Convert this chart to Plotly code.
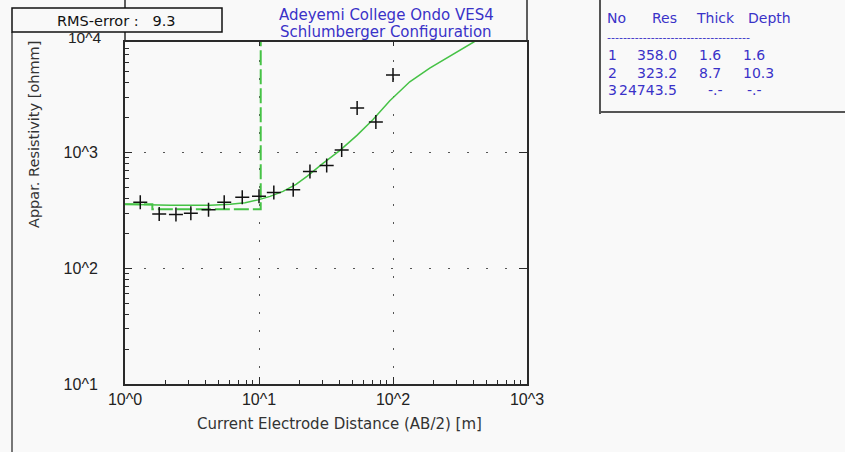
import plotly.graph_objects as go

# ---------------- data ----------------
# measured sounding points: AB/2 [m] and apparent resistivity [ohm m]
ab2_obs = [1.3, 1.8, 2.4, 3.1, 4.2, 5.5, 7.5, 10, 12.9, 18, 24, 32, 41.4, 54, 74.5, 100]
rho_obs = [372, 295, 291, 299, 320, 371, 410, 420, 451, 476, 685, 772, 1049, 2422, 1832, 4667]

# calculated (model) apparent resistivity curve
ab2_calc = [1.0, 1.55, 2.18, 4.32, 6.09, 7.88, 9.85, 12.1, 15.1, 18.9, 22.8, 30.0,
            40.2, 53.8, 70.7, 94.7, 133.4, 188, 265, 406]
rho_calc = [357, 353, 350, 350, 357, 368, 390, 418, 462, 531, 623, 807,
            1045, 1408, 1917, 2797, 4083, 5364, 6757, 9108]

# layered earth model
layer_no = [1, 2, 3]
layer_res = [358.0, 323.2, 24743.5]
layer_thick = [1.6, 8.7]
layer_depth = [1.6, 10.3]

rms_error = 9.3
title_lines = ["Adeyemi College Ondo VES4", "Schlumberger Configuration"]
table_headers = ["No", "Res", "Thick", "Depth"]

x_tickvals = [1, 10, 100, 1000]
x_ticktext = ["10^0", "10^1", "10^2", "10^3"]
y_tickvals = [10, 100, 1000]
y_ticktext = ["10^1", "10^2", "10^3"]
y_top_label = "10^4"
x_range_log = [0, 3]
y_range_log = [1, 3.955]

# ---------------- styling ----------------
W, H = 845, 452
ML, MR, MT, MB = 125, 318, 42, 68
PW, PH = W - ML - MR, H - MT - MB
BG = "#f9f9f9"
GREEN = "#46c246"
BLUE = "#3a32c8"
AXC = "#2a2a2a"
FONT = "Liberation Sans, Arial, sans-serif"
WFONT = "DejaVu Sans, Verdana, sans-serif"
PAD = "&nbsp;" * 5


def px(x):
    return (x - ML) / PW


def py(y):
    return (H - MB - y) / PH


minor_x = [m * 10 ** e for e in range(0, 3) for m in range(2, 10)]
minor_y = [m * 10 ** e for e in range(1, 4) for m in range(2, 10)]

# model step line
x_min = 10 ** x_range_log[0]
x_step = [x_min]
y_step = [layer_res[0]]
for i, d in enumerate(layer_depth):
    x_step += [d, d]
    y_step += [layer_res[i], layer_res[i + 1]]

fig = go.Figure()
fig.add_trace(go.Scatter(x=x_step, y=y_step, mode="lines",
                         line=dict(color=GREEN, width=2, dash="15px,4px"),
                         hoverinfo="skip", showlegend=False))
fig.add_trace(go.Scatter(x=ab2_calc, y=rho_calc, mode="lines",
                         line=dict(color=GREEN, width=1.5),
                         showlegend=False))
fig.add_trace(go.Scatter(x=ab2_obs, y=rho_obs, mode="markers",
                         marker=dict(symbol="cross-thin", size=10,
                                     line=dict(color="#111", width=1.5)),
                         showlegend=False))
# helper trace for mirrored (top/right) tick axes
fig.add_trace(go.Scatter(x=[], y=[], xaxis="x2", yaxis="y2", showlegend=False))

axis_common = dict(type="log", showline=True, linecolor=AXC, linewidth=1.5,
                   ticks="inside", tickcolor=AXC, tickwidth=1.3, ticklen=7,
                   zeroline=False, gridcolor="#555", gridwidth=1,
                   tickfont=dict(family=FONT, size=16, color="#222"))

fig.update_layout(
    width=W, height=H,
    margin=dict(l=ML, r=MR, t=MT, b=MB, pad=0),
    paper_bgcolor=BG, plot_bgcolor=BG,
    xaxis=dict(**axis_common, range=x_range_log, mirror=True,
               tickvals=x_tickvals, ticktext=x_ticktext,
               griddash="2px,16px",
               minor=dict(ticks="inside", ticklen=4, tickcolor=AXC,
                          tickvals=minor_x, showgrid=False)),
    yaxis=dict(**axis_common, range=y_range_log, mirror=True,
               tickvals=y_tickvals, ticktext=[t + PAD for t in y_ticktext],
               griddash="2px,17px",
               minor=dict(ticks="inside", ticklen=4, tickcolor=AXC,
                          tickvals=minor_y, showgrid=False)),
    xaxis2=dict(type="log", range=x_range_log, overlaying="x", side="top",
                tickvals=x_tickvals[1:3], ticks="inside", ticklen=4,
                tickcolor=AXC, tickwidth=1.3, showticklabels=False,
                showgrid=False, showline=False, zeroline=False),
    yaxis2=dict(type="log", range=y_range_log, overlaying="y", side="right",
                tickvals=y_tickvals[1:], ticks="inside", ticklen=8,
                tickcolor=AXC, tickwidth=1.3, showticklabels=False,
                showgrid=False, showline=False, zeroline=False),
)

shapes = [
    # axis lines extending above the plot frame
    dict(type="line", xref="paper", yref="paper", x0=0, x1=0, y0=1, y1=py(0),
         line=dict(color=AXC, width=1.5)),
    dict(type="line", xref="paper", yref="paper", x0=1, x1=1, y0=1, y1=py(0),
         line=dict(color=AXC, width=1.5)),
    # window border on the left
    dict(type="line", xref="paper", yref="paper", x0=px(12), x1=px(12),
         y0=py(H), y1=py(32), line=dict(color="#777", width=2)),
    # RMS box
    dict(type="rect", xref="paper", yref="paper", x0=px(12), x1=px(222),
         y0=py(32), y1=py(8), fillcolor=BG, line=dict(color="#111", width=1.5)),
    # table box borders
    dict(type="line", xref="paper", yref="paper", x0=px(600), x1=px(600),
         y0=py(114), y1=py(0), line=dict(color="#555", width=2)),
    dict(type="line", xref="paper", yref="paper", x0=px(600), x1=px(W),
         y0=py(112), y1=py(112), line=dict(color="#555", width=2)),
]
fig.update_layout(shapes=shapes)

# position of 10^4 in paper units (outside the plotted range)
y4_paper = (4 - y_range_log[0]) / (y_range_log[1] - y_range_log[0])

ann = []
ann.append(dict(text=y_top_label + PAD, xref="paper", yref="paper", x=px(125),
                y=y4_paper, yshift=-1, xanchor="right", yanchor="middle",
                showarrow=False, font=dict(family=FONT, size=15.5, color="#222")))
ann.append(dict(text=f"RMS-error :&nbsp;&nbsp; {rms_error}", xref="paper", yref="paper",
                x=px(116), y=py(21), xanchor="center", yanchor="middle",
                showarrow=False, font=dict(family=WFONT, size=14.5, color="#111")))
for i, t in enumerate(title_lines):
    ann.append(dict(text=t, xref="paper", yref="paper", x=px(386),
                    y=py(15 + 17 * i), xanchor="center", yanchor="middle",
                    showarrow=False, font=dict(family=WFONT, size=15, color=BLUE)))
ann.append(dict(text="Appar. Resistivity [ohmm]", xref="paper", yref="paper",
                x=px(34), y=py(135), textangle=-90, xanchor="center",
                yanchor="middle", showarrow=False,
                font=dict(family=WFONT, size=14.5, color="#333")))
ann.append(dict(text="Current Electrode Distance (AB/2) [m]", xref="paper",
                yref="paper", x=px(339), y=py(424), xanchor="center",
                yanchor="middle", showarrow=False,
                font=dict(family=WFONT, size=15, color="#333")))

# results table
tfont = dict(family=WFONT, size=14, color=BLUE)
header_x = [605, 650, 694, 746]
for t, x in zip(table_headers, header_x):
    ann.append(dict(text=t, xref="paper", yref="paper", x=px(x), y=py(18),
                    xanchor="left", yanchor="middle", showarrow=False, font=tfont))
ann.append(dict(text="-" * 36, xref="paper", yref="paper", x=px(605), y=py(37),
                xanchor="left", yanchor="middle", showarrow=False,
                font=dict(family=WFONT, size=11, color=BLUE)))
row_y = [55, 73, 90]
for i, n in enumerate(layer_no):
    yy = py(row_y[i])
    ann.append(dict(text=str(n), xref="paper", yref="paper", x=px(618.5), y=yy,
                    xanchor="right", yanchor="middle", showarrow=False, font=tfont))
    ann.append(dict(text=f"{layer_res[i]:.1f}", xref="paper", yref="paper",
                    x=px(678.5), y=yy, xanchor="right", yanchor="middle",
                    showarrow=False, font=tfont))
    th = f"{layer_thick[i]:.1f}" if i < len(layer_thick) else "-.-"
    dp = f"{layer_depth[i]:.1f}" if i < len(layer_depth) else "-.-"
    ann.append(dict(text=th, xref="paper", yref="paper",
                    x=px(697 if i < len(layer_thick) else 706), y=yy,
                    xanchor="left", yanchor="middle", showarrow=False, font=tfont))
    ann.append(dict(text=dp, xref="paper", yref="paper",
                    x=px(741 if i < len(layer_depth) else 745), y=yy,
                    xanchor="left", yanchor="middle", showarrow=False, font=tfont))

fig.update_layout(annotations=ann)
fig.write_html("out.html")
